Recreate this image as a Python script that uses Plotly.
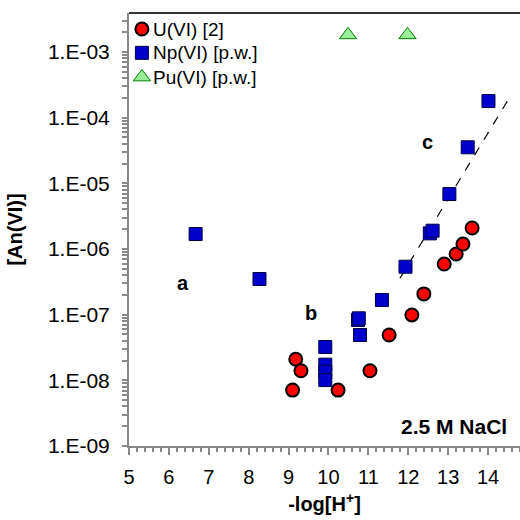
import math
import plotly.graph_objects as go

# U(VI) [2]
u_x = [9.10, 9.18, 9.31, 10.24, 11.04, 11.52, 12.09, 12.39, 12.90, 13.20, 13.37, 13.60]
u_y = [7.1e-9, 2.1e-8, 1.4e-8, 7.1e-9, 1.4e-8, 4.9e-8, 9.9e-8, 2.07e-7, 5.9e-7, 8.4e-7, 1.19e-6, 2.09e-6]

# Np(VI) [p.w.]
np_x = [6.67, 8.27, 9.92, 9.92, 9.92, 9.92, 10.74, 10.76, 10.79, 11.34, 11.93, 12.54, 12.61, 13.03, 13.49, 14.01]
np_y = [1.69e-6, 3.49e-7, 3.22e-8, 1.73e-8, 1.35e-8, 1.01e-8, 8.3e-8, 8.8e-8, 4.9e-8, 1.67e-7, 5.37e-7, 1.73e-6, 1.9e-6, 6.87e-6, 3.54e-5, 1.79e-4]

# Pu(VI) [p.w.]
pu_x = [10.49, 11.98]
pu_y = [1.82e-3, 1.82e-3]

# dashed fit line
fit_x = [11.79, 14.54]
fit_y = [3.58e-7, 2.04e-4]

y_tickvals = [1e-9, 1e-8, 1e-7, 1e-6, 1e-5, 1e-4, 1e-3]
y_ticktext = ["1.E-09", "1.E-08", "1.E-07", "1.E-06", "1.E-05", "1.E-04", "1.E-03"]
x_tickvals = [5, 6, 7, 8, 9, 10, 11, 12, 13, 14]

labels = ["a", "b", "c"]
label_x = [6.35, 9.56, 12.47]
label_y = [3.0e-7, 1.06e-7, 4.26e-5]

series_names = ["U(VI) [2]", "Np(VI) [p.w.]", "Pu(VI) [p.w.]"]

FONT = "Arial, Liberation Sans, sans-serif"
AXC = "#888888"

styles = [
    dict(symbol="circle", size=13, color="#ff0000", line=dict(color="black", width=2)),
    dict(symbol="square", size=13, color="#0000cc", line=dict(color="#000044", width=1)),
    dict(symbol="triangle-up", size=15, color="#99ee99", line=dict(color="#008000", width=1)),
]

fig = go.Figure()
fig.add_trace(go.Scatter(x=fit_x, y=fit_y, mode="lines", showlegend=False,
                         line=dict(color="black", width=1.2, dash="dash")))
for nm, xs, ys, st in zip(series_names, [u_x, np_x, pu_x], [u_y, np_y, pu_y], styles):
    fig.add_trace(go.Scatter(x=xs, y=ys, mode="markers", name=nm, showlegend=False,
                             marker=st))

# manual legend (symbols on a hidden overlay axis in 0..1 units, text as annotations)
leg_sym_x = 0.033
leg_txt_x = 0.056
leg_y = [0.963, 0.908, 0.852]
for nm, ly, st in zip(series_names, leg_y, styles):
    fig.add_trace(go.Scatter(x=[leg_sym_x], y=[ly], xaxis="x2", yaxis="y2", mode="markers",
                             showlegend=False, marker=st, hoverinfo="skip"))
    fig.add_annotation(x=leg_txt_x, y=ly, xref="paper", yref="paper", text=nm,
                       showarrow=False, xanchor="left", yanchor="middle",
                       font=dict(family=FONT, size=19, color="black"))

for t, lx, ly in zip(labels, label_x, label_y):
    fig.add_annotation(x=lx, y=math.log10(ly), text="<b>" + t + "</b>", showarrow=False,
                       font=dict(family=FONT, size=20, color="black"), yanchor="middle")

fig.add_annotation(x=0.972, y=0.015, xref="paper", yref="paper", text="<b>2.5 M NaCl</b>",
                   showarrow=False, xanchor="right", yanchor="bottom",
                   font=dict(family=FONT, size=21, color="black"))

fig.add_shape(type="line", xref="paper", yref="paper", x0=0, x1=1, y0=1, y1=1,
              line=dict(color="#333333", width=2))

fig.update_layout(
    width=520, height=520,
    margin=dict(l=129, r=0, t=13, b=74),
    paper_bgcolor="white", plot_bgcolor="white",
    font=dict(family=FONT, size=20, color="black"),
    showlegend=False,
    xaxis=dict(range=[5, 14.80], tickvals=x_tickvals, ticks="outside", ticklen=7,
               tickcolor=AXC, tickwidth=2, showline=True, linecolor=AXC, linewidth=2,
               showgrid=False, zeroline=False,
               minor=dict(dtick=0.2, ticks="outside", ticklen=4, tickcolor=AXC, tickwidth=1.5,
                          showgrid=False),
               title=dict(text="<b>-log[H<sup>+</sup>]</b>", font=dict(size=20), standoff=10),
               tickfont=dict(size=20), ticklabelstandoff=5),
    yaxis=dict(type="log", range=[-9, -2.406], tickvals=y_tickvals, ticktext=y_ticktext,
               ticks="outside", ticklen=5, tickcolor=AXC, tickwidth=2, showline=True,
               linecolor=AXC, linewidth=2, showgrid=False, zeroline=False,
               minor=dict(dtick="D1", ticks="outside", ticklen=5, tickcolor=AXC, tickwidth=1.5,
                          showgrid=False),
               title=dict(text="<b>[An(VI)]</b>", font=dict(size=20), standoff=20),
               tickfont=dict(size=21), ticklabelstandoff=8),
    xaxis2=dict(overlaying="x", range=[0, 1], visible=False, fixedrange=True),
    yaxis2=dict(overlaying="y", range=[0, 1], visible=False, fixedrange=True),
)

fig.write_html("out.html")
